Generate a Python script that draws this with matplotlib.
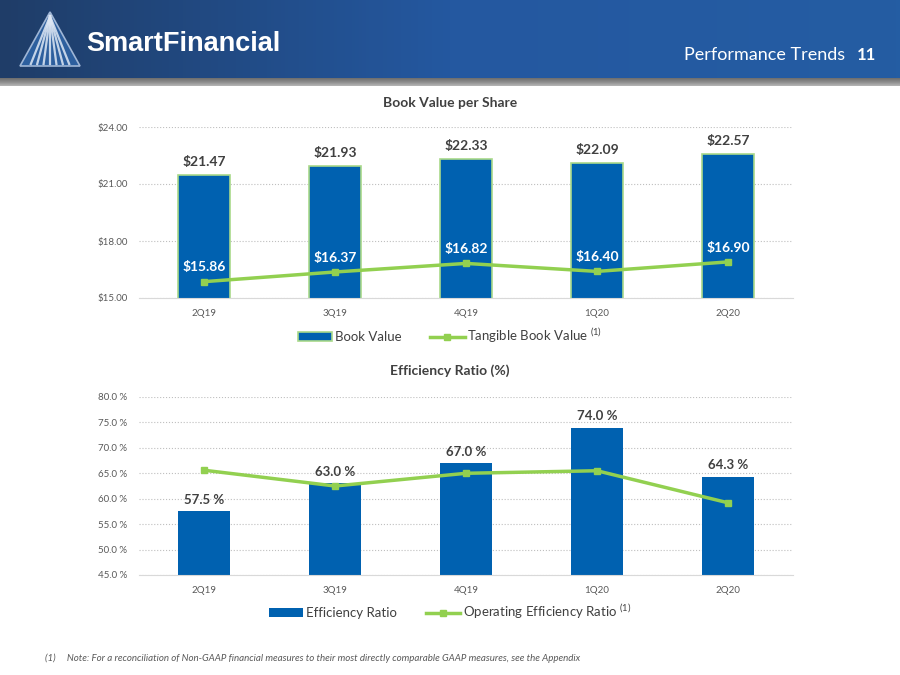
import matplotlib
matplotlib.use("Agg")
import matplotlib.pyplot as plt
import numpy as np
from matplotlib.patches import Polygon
from matplotlib.colors import LinearSegmentedColormap

plt.rcParams['font.family'] = ['Lato', 'DejaVu Sans']
plt.rcParams['mathtext.fontset'] = 'custom'
plt.rcParams['mathtext.rm'] = 'Lato'

# data
quarters = ['2Q19', '3Q19', '4Q19', '1Q20', '2Q20']
book_value = [21.47, 21.93, 22.33, 22.09, 22.57]
tangible_bv = [15.86, 16.37, 16.82, 16.40, 16.90]
eff_ratio = [57.5, 63.0, 67.0, 74.0, 64.3]
op_eff_ratio = [65.6, 62.5, 65.0, 65.5, 59.2]
bv_ticks = [15.0, 18.0, 21.0, 24.0]
eff_ticks = [45, 50, 55, 60, 65, 70, 75, 80]

BLUE = '#0061b0'
GREEN = '#92d050'
TICK = '#595959'
LABEL = '#404040'

W, H = 900, 675
fig = plt.figure(figsize=(9, 6.75), dpi=100)
fig.patch.set_facecolor('white')


def fx(px):
    return px / W


def fy(py):
    return 1 - py / H


# header band
hax = fig.add_axes([0, fy(78), 1, 78 / H])
grad = np.linspace(0, 1, 256).reshape(1, -1)
hcmap = LinearSegmentedColormap.from_list('h', ['#1f3d68', '#2458a0', '#245da3'])
hax.imshow(grad, aspect='auto', cmap=hcmap, extent=[0, 1, 0, 1])
hax.set_axis_off()
gax = fig.add_axes([0, fy(86), 1, 8 / H])
gcmap = LinearSegmentedColormap.from_list('g', ['#6e6e6e', '#8c8c8c', '#b5b5b5'])
gax.imshow(np.linspace(0, 1, 16).reshape(-1, 1), aspect='auto', cmap=gcmap, extent=[0, 1, 0, 1])
gax.set_axis_off()

# logo triangle
tri = Polygon([(fx(20), fy(66)), (fx(50), fy(12)), (fx(80), fy(66))], closed=True,
              transform=fig.transFigure, facecolor='#2d5f9e', edgecolor='#9fb6d6', lw=1.2)
fig.patches.append(tri)
for k in np.linspace(-0.8, 0.8, 7):
    fig.add_artist(plt.Line2D([fx(50), fx(50 + k * 24)], [fy(16), fy(64)],
                              transform=fig.transFigure, color='#dfe8f5', lw=1.6, alpha=0.85))
fig.text(fx(86), fy(44), 'SmartFinancial', color='white', fontsize=19.5, fontweight='bold',
         family=['Liberation Sans', 'DejaVu Sans'], va='center', ha='left')
fig.text(fx(845), fy(55), 'Performance Trends', color='white', fontsize=13, va='center', ha='right')
fig.text(fx(876), fy(55), '11', color='white', fontsize=12, fontweight='bold', va='center', ha='right')

x = np.arange(len(quarters))

# book value chart
ax1 = fig.add_axes([fx(138.5), fy(298), 655 / W, 171 / H])
bars1 = ax1.bar(x, book_value, width=0.4, color=BLUE, edgecolor='#a9d98a', linewidth=1.2, zorder=2)
line1, = ax1.plot(x, tangible_bv, color=GREEN, lw=2.5, marker='s', markersize=5, zorder=3)
ax1.set_ylim(15, 24)
ax1.set_xlim(-0.5, 4.5)
ax1.set_yticks(bv_ticks)
ax1.set_yticklabels(['${:.2f}'.format(v) for v in bv_ticks])
for i, v in enumerate(book_value):
    ax1.annotate('${:.2f}'.format(v), (i, v), xytext=(0, 5), textcoords='offset points',
                 ha='center', va='bottom', fontsize=10, fontweight='bold', color=LABEL)
for i, v in enumerate(tangible_bv):
    ax1.annotate('${:.2f}'.format(v), (i, v), xytext=(0, 6), textcoords='offset points',
                 ha='center', va='bottom', fontsize=10, fontweight='bold', color='white', zorder=4)
fig.text(0.5, fy(103), 'Book Value per Share', fontsize=10, fontweight='bold', color=LABEL,
         ha='center', va='center')

# efficiency chart
ax2 = fig.add_axes([fx(138.5), fy(575), 655 / W, 178 / H])
bars2 = ax2.bar(x, eff_ratio, width=0.4, color=BLUE, zorder=2)
line2, = ax2.plot(x, op_eff_ratio, color=GREEN, lw=2.5, marker='s', markersize=5, zorder=3)
ax2.set_ylim(45, 80)
ax2.set_xlim(-0.5, 4.5)
ax2.set_yticks(eff_ticks)
ax2.set_yticklabels(['{:.1f} %'.format(v) for v in eff_ticks])
for i, v in enumerate(eff_ratio):
    ax2.annotate('{:.1f} %'.format(v), (i, v), xytext=(0, 4), textcoords='offset points',
                 ha='center', va='bottom', fontsize=9.5, fontweight='bold', color=LABEL)
fig.text(0.5, fy(371), 'Efficiency Ratio (%)', fontsize=10, fontweight='bold', color=LABEL,
         ha='center', va='center')

for ax in (ax1, ax2):
    ax.set_xticks(x)
    ax.set_xticklabels(quarters)
    ax.tick_params(length=0, labelsize=7, colors=TICK, pad=8)
    ax.grid(axis='y', color='#bfbfbf', linestyle=':', lw=0.8, zorder=0)
    ax.set_axisbelow(True)
    for s in ['top', 'right', 'left']:
        ax.spines[s].set_visible(False)
    ax.spines['bottom'].set_color('#d9d9d9')

fig.legend([bars1, line1], ['Book Value', 'Tangible Book Value $^{(1)}$'], loc='center',
           bbox_to_anchor=(0.5, fy(336)), ncol=2, frameon=False, fontsize=9.5,
           handlelength=2.6, columnspacing=2.2, handletextpad=0.2, labelcolor='#404040')
fig.legend([bars2, line2], ['Efficiency Ratio', 'Operating Efficiency Ratio $^{(1)}$'],
           loc='center', bbox_to_anchor=(0.5, fy(612)), ncol=2, frameon=False, fontsize=9.5,
           handlelength=2.6, columnspacing=2.2, handletextpad=0.2, labelcolor='#404040')

fig.text(fx(45), fy(658), '(1)     Note: For a reconciliation of Non-GAAP financial measures to their most directly comparable GAAP measures, see the Appendix',
         fontsize=7, style='italic', color='#595959', va='center', ha='left')

fig.savefig('out.png', dpi=100)
